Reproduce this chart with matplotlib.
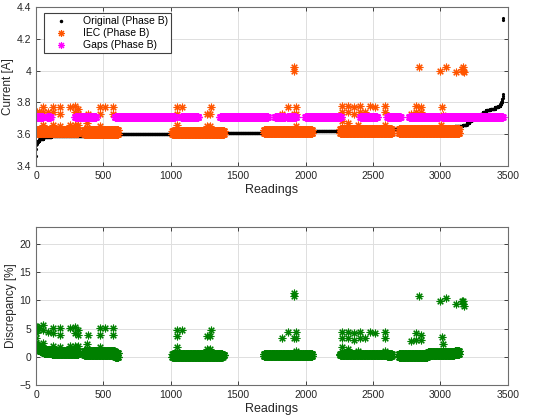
import numpy as np
import matplotlib
matplotlib.use('Agg')
import matplotlib.pyplot as plt
from matplotlib.lines import Line2D

plt.rcParams['font.family'] = ['Liberation Sans', 'DejaVu Sans']

# original current (sorted), stored as level / how many readings at that level
orig_levels = [3.46, 3.51, 3.53, 3.54, 3.55, 3.56, 3.57, 3.58, 3.59, 3.60,
               3.61, 3.62, 3.63, 3.64, 3.65, 3.66, 3.67, 3.68, 3.69, 3.70,
               3.71, 3.72, 3.73, 3.74, 3.75, 3.76, 3.77, 3.78, 3.79, 3.80,
               3.81, 3.82, 3.83, 3.84, 3.85, 4.32, 4.33]
orig_counts = [1, 1, 1, 2, 8, 12, 30, 60, 470, 800,
               600, 620, 300, 200, 60, 30, 20, 15, 15, 15,
               15, 20, 20, 25, 30, 35, 25, 15, 8, 4,
               2, 2, 1, 1, 1, 1, 1]

# IEC estimate: blocks of readings, lower and upper edge of the band
iec_start = [0, 355, 1010, 1690, 2255, 2690]
iec_end = [315, 610, 1395, 2050, 2640, 3140]
iec_low = [3.605, 3.60, 3.60, 3.605, 3.61, 3.61]
iec_high = [3.625, 3.625, 3.62, 3.625, 3.635, 3.63]

# IEC points away from the band
iec_out_x = [3, 8, 15, 20, 54, 54, 54, 90, 128, 128, 128, 178, 178, 178,
             252, 252, 290, 290, 290, 314, 314, 314,
             380, 388, 475, 475, 475, 512, 574, 574,
             1045, 1045, 1045, 1080, 1267, 1290, 1295, 1270, 1290,
             1824, 1866, 1911, 1911, 1911, 1930, 1930, 1930,
             2270, 2270, 2270, 2312, 2312, 2312, 2356, 2356, 2400, 2400, 2390,
             2442, 2475, 2517, 2587, 2587, 2587,
             2782, 2822, 2822, 2856, 2856, 2840, 3005, 3012, 3017, 3000, 3045,
             3119, 3160, 3165, 3170, 3175]
iec_out_y = [3.73, 3.74, 3.73, 3.74, 3.77, 3.74, 3.66, 3.74, 3.77, 3.74, 3.66, 3.77, 3.73, 3.65,
             3.77, 3.66, 3.78, 3.74, 3.66, 3.76, 3.73, 3.66,
             3.67, 3.73, 3.77, 3.73, 3.65, 3.77, 3.77, 3.73,
             3.77, 3.73, 3.66, 3.77, 3.73, 3.73, 3.77, 3.65, 3.65,
             3.73, 3.77, 4.02, 4.00, 3.73, 3.77, 3.73, 3.65,
             3.78, 3.74, 3.68, 3.78, 3.74, 3.67, 3.77, 3.73, 3.78, 3.74, 3.66,
             3.74, 3.78, 3.77, 3.78, 3.74, 3.66,
             3.73, 3.74, 3.78, 3.77, 3.74, 4.02, 3.66, 3.77, 3.72, 4.00, 4.02,
             3.99, 4.01, 4.00, 4.02, 3.99]

# readings where gaps were filled, and the fill value
gap_start = [0, 78, 290, 585, 1072, 1365, 1770, 1862, 1998, 2406, 2606, 2768, 3010]
gap_end = [52, 108, 445, 1032, 1205, 1720, 1850, 1930, 2262, 2530, 2705, 2990, 3462]
gap_level = 3.71

orig = np.repeat(orig_levels, orig_counts)
x_orig = np.arange(len(orig))

xs, ys = [], []
for a, b, lo, hi in zip(iec_start, iec_end, iec_low, iec_high):
    r = np.arange(a, b + 1)
    xs.append(r)
    ys.append(np.where(r % 2 == 0, lo, hi))
iec_x = np.concatenate(xs + [iec_out_x])
iec_y = np.concatenate(ys + [iec_out_y])

gap_x = np.concatenate([np.arange(a, b + 1) for a, b in zip(gap_start, gap_end)])
gap_y = np.full(len(gap_x), gap_level)

disc = np.abs(iec_y - orig[iec_x]) / orig[iec_x] * 100

orange = '#ff5500'
green = '#008000'
star = (8, 2, 0)


def style(ax):
    ax.grid(True, color='#dedede', linewidth=0.7)
    ax.set_axisbelow(True)
    for s in ax.spines.values():
        s.set_color('#6e6e6e')
        s.set_linewidth(0.8)
    ax.tick_params(direction='in', top=True, right=True, labelsize=7.5,
                   colors='#262626', length=3, width=0.6)
    ax.set_xlim(0, 3500)
    ax.set_xticks(np.arange(0, 3501, 500))
    ax.set_xlabel('Readings', fontsize=9, color='#262626', labelpad=2)


fig = plt.figure(figsize=(5.46, 4.16), dpi=100)
ax1 = fig.add_axes([0.066, 0.601, 0.864, 0.382])
ax2 = fig.add_axes([0.066, 0.0745, 0.864, 0.380])

ax1.plot(x_orig, orig, '.', color='black', markersize=2.5)
ax1.plot(iec_x, iec_y, linestyle='none', marker=star, color=orange,
         markersize=5.5, markeredgewidth=0.8)
ax1.plot(gap_x, gap_y, linestyle='none', marker=star, color='magenta',
         markersize=5.5, markeredgewidth=0.8)
style(ax1)
ax1.set_ylim(3.4, 4.4)
ax1.set_yticks([3.4, 3.6, 3.8, 4.0, 4.2, 4.4])
ax1.set_yticklabels(['3.4', '3.6', '3.8', '4', '4.2', '4.4'])
ax1.set_ylabel('Current [A]', fontsize=8.5, color='#262626', labelpad=2)

handles = [
    Line2D([], [], linestyle='none', marker='.', color='black', markersize=3),
    Line2D([], [], linestyle='none', marker=star, color=orange, markersize=5, markeredgewidth=0.8),
    Line2D([], [], linestyle='none', marker=star, color='magenta', markersize=5, markeredgewidth=0.8),
]
leg = ax1.legend(handles, ['Original (Phase B)', 'IEC (Phase B)', 'Gaps (Phase B)'],
                 loc='upper left', bbox_to_anchor=(8 / 472, 1 - 6 / 159),
                 fontsize=7.5, frameon=True, fancybox=False, framealpha=1,
                 borderaxespad=0, handlelength=2.6, handletextpad=0.8,
                 labelspacing=0.2, borderpad=0.3)
leg.get_frame().set_edgecolor('#404040')
leg.get_frame().set_linewidth(0.8)

ax2.plot(iec_x, disc, linestyle='none', marker=star, color=green,
         markersize=5.5, markeredgewidth=0.8)
style(ax2)
ax2.set_ylim(-5, 23)
ax2.set_yticks([-5, 0, 5, 10, 15, 20])
ax2.set_ylabel('Discrepancy [%]', fontsize=8.5, color='#262626', labelpad=2)

fig.savefig('out.png', dpi=100)
